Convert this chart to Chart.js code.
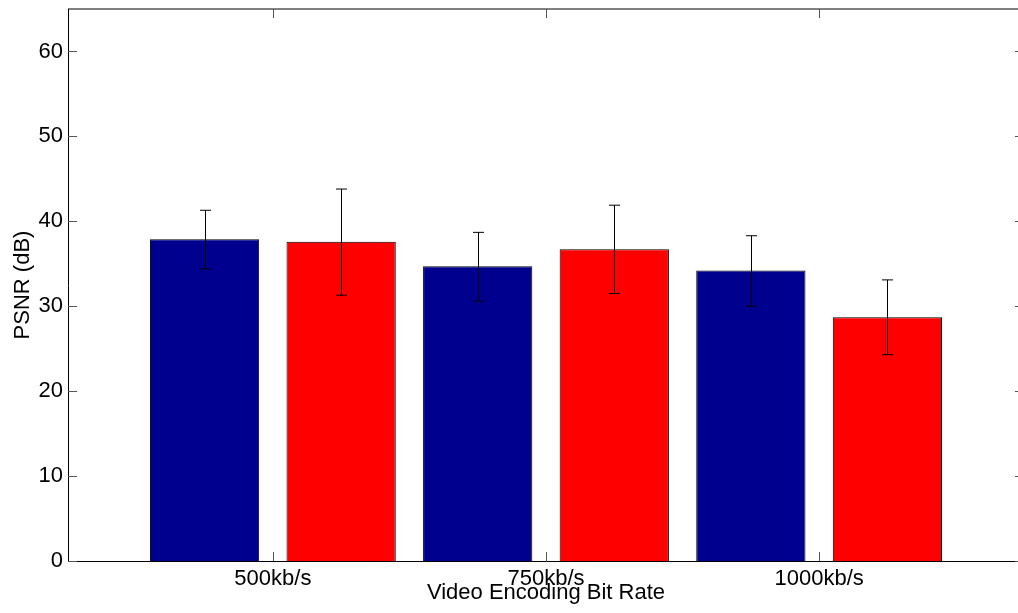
<!DOCTYPE html>
<html lang="en">
<head>
    <meta charset="UTF-8">
    <title>PSNR vs bit rate</title>
    <script src="https://cdn.jsdelivr.net/npm/chart.js"></script>
    <style>
        body {
            margin: 0;
            overflow: hidden;
            background: #fff;
        }

        #chart-container {
            width: 1030px;
            height: 613px;
        }
    </style>
</head>
<body>
    <div id="chart-container">
        <canvas id="psnrChart"></canvas>
    </div>

    <script>
        // values
        const categories = ['500kb/s', '750kb/s', '1000kb/s'];
        const blueMeans = [37.9, 34.7, 34.2];
        const blueLow = [34.4, 30.6, 30.0];
        const blueHigh = [41.3, 38.7, 38.3];
        const redMeans = [37.6, 36.7, 28.7];
        const redLow = [31.3, 31.5, 24.3];
        const redHigh = [43.8, 41.9, 33.1];
        const yTicks = [0, 10, 20, 30, 40, 50, 60];

        const font = { family: '"Liberation Sans", Arial, sans-serif', size: 22 };
        const errors = [[blueLow, blueHigh], [redLow, redHigh]];

        // error bars drawn over the bars
        const errorBars = {
            id: 'errorBars',
            afterDatasetsDraw(chart) {
                const ctx = chart.ctx;
                const y = chart.scales.y;
                ctx.save();
                ctx.strokeStyle = '#000';
                ctx.lineWidth = 1;
                errors.forEach((pair, d) => {
                    chart.getDatasetMeta(d).data.forEach((bar, i) => {
                        const x = Math.round(bar.x) + 0.5;
                        const lo = y.getPixelForValue(pair[0][i]);
                        const hi = y.getPixelForValue(pair[1][i]);
                        ctx.beginPath();
                        ctx.moveTo(x, lo);
                        ctx.lineTo(x, hi);
                        ctx.moveTo(x - 5.5, lo);
                        ctx.lineTo(x + 5.5, lo);
                        ctx.moveTo(x - 5.5, hi);
                        ctx.lineTo(x + 5.5, hi);
                        ctx.stroke();
                    });
                });
                ctx.restore();
            }
        };

        // matlab style box: top line and inward ticks
        const boxTicks = {
            id: 'boxTicks',
            afterDraw(chart) {
                const ctx = chart.ctx;
                const a = chart.chartArea;
                const sx = chart.scales.x;
                const sy = chart.scales.y;
                ctx.save();
                ctx.strokeStyle = '#000';
                ctx.lineWidth = 1;
                ctx.beginPath();
                ctx.moveTo(a.left, a.top);
                ctx.lineTo(a.right, a.top);
                ctx.stroke();
                ctx.strokeStyle = '#555';
                ctx.beginPath();
                sx.ticks.forEach(t => {
                    const px = Math.round(sx.getPixelForValue(t.value)) + 0.5;
                    ctx.moveTo(px, a.bottom);
                    ctx.lineTo(px, a.bottom - 9);
                    ctx.moveTo(px, a.top);
                    ctx.lineTo(px, a.top + 9);
                });
                sy.ticks.forEach(t => {
                    const py = Math.round(sy.getPixelForValue(t.value)) + 0.5;
                    ctx.moveTo(a.left, py);
                    ctx.lineTo(a.left + 9, py);
                    ctx.moveTo(a.right, py);
                    ctx.lineTo(a.right - 9, py);
                });
                ctx.stroke();
                ctx.restore();
            }
        };

        new Chart(document.getElementById('psnrChart').getContext('2d'), {
            type: 'bar',
            data: {
                datasets: [{
                    data: blueMeans.map((v, i) => ({ x: i + 1, y: v })),
                    backgroundColor: '#00008f',
                    borderColor: '#000',
                    borderWidth: 1
                }, {
                    data: redMeans.map((v, i) => ({ x: i + 1, y: v })),
                    backgroundColor: '#ff0000',
                    borderColor: '#000',
                    borderWidth: 1
                }]
            },
            options: {
                responsive: true,
                maintainAspectRatio: false,
                animation: false,
                layout: { padding: { top: 9, right: 6, left: 0, bottom: 0 } },
                datasets: { bar: { categoryPercentage: 1.0, barPercentage: 0.8 } },
                plugins: {
                    legend: { display: false },
                    tooltip: { enabled: false }
                },
                scales: {
                    x: {
                        type: 'linear',
                        min: 0.25,
                        max: 3.75,
                        offset: false,
                        grid: { display: false, drawTicks: false },
                        border: { display: true, color: '#000', width: 1 },
                        ticks: {
                            color: '#000',
                            font: font,
                            padding: 5,
                            maxRotation: 0,
                            callback: v => categories[v - 1]
                        },
                        title: {
                            display: true,
                            text: 'Video Encoding Bit Rate',
                            color: '#000',
                            font: font,
                            padding: { top: 0, bottom: 7 }
                        },
                        afterBuildTicks: s => {
                            s.ticks = categories.map((c, i) => ({ value: i + 1 }));
                        },
                        afterFit: s => {
                            s.height = 52;
                            s.paddingLeft = 0;
                            s.paddingRight = 0;
                        }
                    },
                    y: {
                        min: 0,
                        max: 65,
                        grid: { display: false, drawTicks: false },
                        border: { display: true, color: '#000', width: 1 },
                        ticks: {
                            color: '#000',
                            font: font,
                            padding: 5,
                            stepSize: 10
                        },
                        title: {
                            display: true,
                            text: 'PSNR (dB)',
                            color: '#000',
                            font: font,
                            padding: { top: 10, bottom: 0 }
                        },
                        afterBuildTicks: s => {
                            s.ticks = yTicks.map(v => ({ value: v }));
                        },
                        afterFit: s => {
                            s.width = 68;
                            s.paddingTop = 0;
                            s.paddingBottom = 0;
                        }
                    }
                }
            },
            plugins: [errorBars, boxTicks]
        });
    </script>
</body>
</html>
